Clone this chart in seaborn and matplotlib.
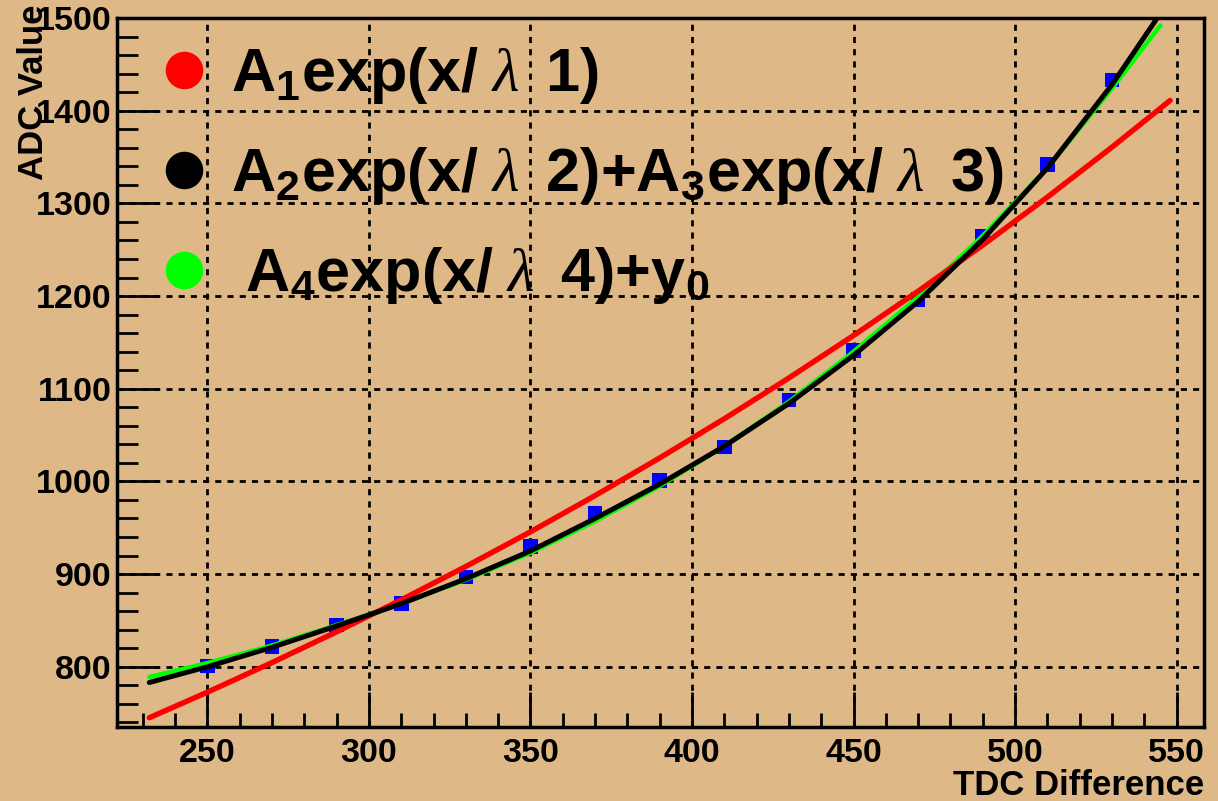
import matplotlib
matplotlib.use("Agg")
import matplotlib.pyplot as plt
from matplotlib.lines import Line2D
import seaborn as sns
import pandas as pd

# ---- data ----
tdc_points = [250, 270, 290, 310, 330, 350, 370, 390, 410, 430, 450, 470, 490, 510, 530]
adc_points = [801, 822, 845, 868, 897, 930, 966, 1001, 1037, 1088, 1141, 1196, 1265, 1342, 1433]

red_x = [232, 250, 270, 290, 310, 330, 350, 370, 390, 410, 430, 450, 470, 490, 510, 530, 548]
red_y = [745, 772.6, 804.5, 837.7, 872.2, 908.2, 945.6, 984.7, 1025.3, 1067.6, 1111.6,
         1157.4, 1205.2, 1254.9, 1306.7, 1360.6, 1411]

black_x = [232, 250, 270, 290, 310, 330, 350, 370, 390, 410, 430, 450, 470, 490, 510, 530, 545]
black_y = [783, 800, 821, 844, 868, 895, 925, 960, 997, 1038, 1084, 1136, 1194, 1261, 1338, 1428, 1505]

green_x = [232, 250, 270, 290, 310, 330, 350, 370, 390, 410, 430, 450, 470, 490, 510, 530, 545]
green_y = [789, 804, 823, 845, 868, 894, 923, 957, 995, 1038, 1086, 1140, 1199, 1265, 1338, 1424, 1492]

legend_labels = [
    r"$\mathrm{A_1exp(x/}\ \lambda\ \;\mathrm{1)}$",
    r"$\mathrm{A_2exp(x/}\ \lambda\ \;\mathrm{2)}{+}\mathrm{A_3exp(x/}\ \lambda\ \;\mathrm{3)}$",
    r"$\ \mathrm{A_4exp(x/}\ \lambda\ \;\mathrm{4)}{+}\mathrm{y_0}$",
]
legend_colors = ["#ff0000", "#000000", "#00ff00"]

x_ticks = [250, 300, 350, 400, 450, 500, 550]
y_ticks = [800, 900, 1000, 1100, 1200, 1300, 1400, 1500]

BG = "#DEB887"

sns.set_style("ticks")
plt.rcParams["font.family"] = ["Liberation Sans", "DejaVu Sans"]
plt.rcParams["text.color"] = "black"
plt.rcParams["axes.labelcolor"] = "black"
plt.rcParams["xtick.color"] = "black"
plt.rcParams["ytick.color"] = "black"
plt.rcParams["mathtext.fontset"] = "custom"
plt.rcParams["mathtext.rm"] = "Liberation Sans:bold"
plt.rcParams["mathtext.bf"] = "Liberation Sans:bold"
plt.rcParams["mathtext.it"] = "Liberation Serif:italic"

fig = plt.figure(figsize=(12.18, 8.01), dpi=100, facecolor=BG)
ax = fig.add_axes([117 / 1218, 1 - 727 / 801, (1204 - 117) / 1218, (727 - 18) / 801])
ax.set_facecolor(BG)

pts = pd.DataFrame({"x": tdc_points, "y": adc_points})
sns.scatterplot(data=pts, x="x", y="y", marker="s", s=110, color="#0000ff",
                edgecolor="none", ax=ax, zorder=3)

sns.lineplot(x=green_x, y=green_y, color="#00ff00", lw=3.2, ax=ax, zorder=4, sort=False)
sns.lineplot(x=red_x, y=red_y, color="#ff0000", lw=3.9, ax=ax, zorder=5, sort=False)
sns.lineplot(x=black_x, y=black_y, color="#000000", lw=3.6, ax=ax, zorder=6, sort=False)

ax.set_xlim(222, 558.5)
ax.set_ylim(735, 1500)
ax.set_xticks(x_ticks)
ax.set_yticks(y_ticks)
ax.set_xticks(range(230, 560, 10), minor=True)
ax.set_yticks(range(740, 1500, 20), minor=True)
ax.tick_params(axis="both", which="major", direction="in", labelsize=24.5, width=2, color="black")
ax.tick_params(axis="x", which="major", length=25, pad=8)
ax.tick_params(axis="y", which="major", length=30, pad=4)
ax.tick_params(axis="x", which="minor", direction="in", length=10, width=2)
ax.tick_params(axis="y", which="minor", direction="in", length=15, width=2)
for lab in ax.get_xticklabels() + ax.get_yticklabels():
    lab.set_fontweight("bold")

ax.grid(True, which="major", color="black", linestyle=(0, (2.2, 2.2)), linewidth=2)
ax.set_axisbelow(True)
for sp in ax.spines.values():
    sp.set_visible(True)
    sp.set_linewidth(2.5)
    sp.set_color("black")

ax.set_xlabel("TDC Difference", fontsize=25, fontweight="bold", ha="right")
ax.xaxis.set_label_coords(1.0, -(795 - 727) / 709)
ax.xaxis.label.set_va("baseline")
ax.set_ylabel("ADC Value", fontsize=25, fontweight="bold", ha="right")
ax.yaxis.set_label_coords(-(117 - 43) / 1087, 1 + 13 / 709)
ax.yaxis.label.set_va("baseline")

handles = [Line2D([], [], ls="", marker="o", ms=27, color=c, markeredgewidth=0) for c in legend_colors]
leg = ax.legend(handles, legend_labels, loc="upper left", bbox_to_anchor=(0.0336, 0.962),
                frameon=False, fontsize=44, handlelength=1.0, handletextpad=0.27,
                labelspacing=0.64, borderpad=0, borderaxespad=0)
leg.set_zorder(10)

fig.savefig("out.png", dpi=100, facecolor=BG)
